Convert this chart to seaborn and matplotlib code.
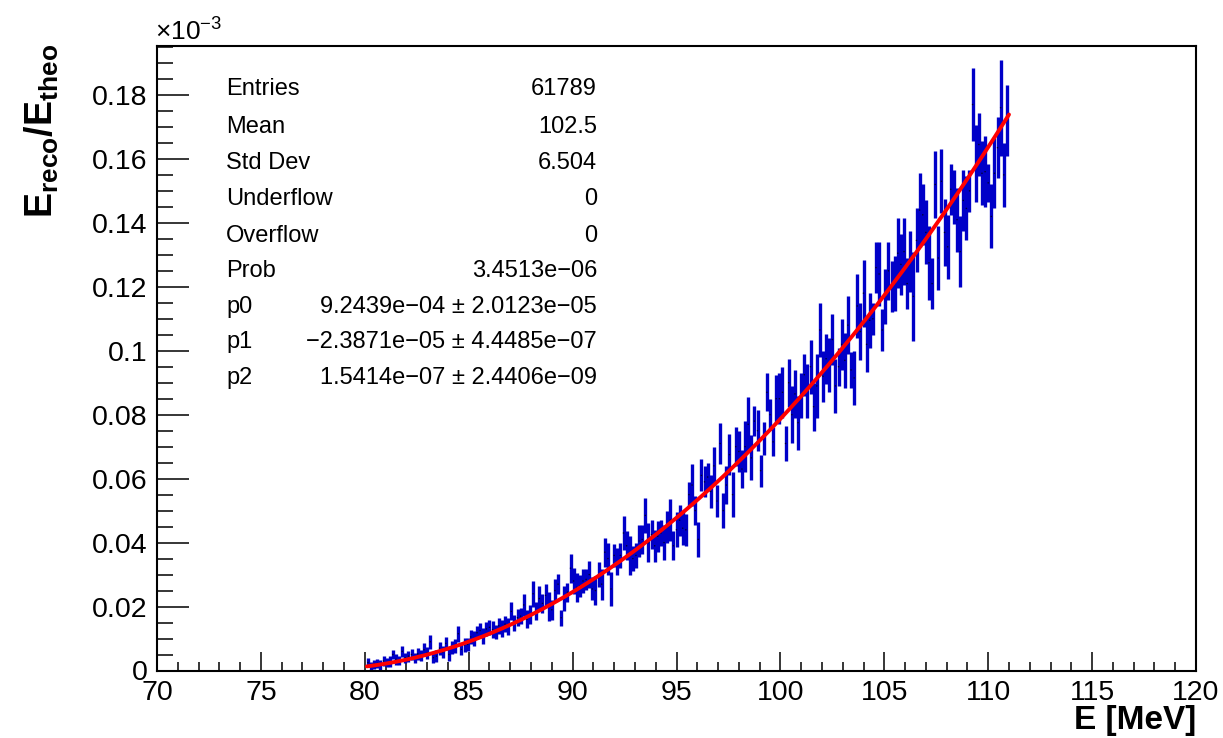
import numpy as np
import pandas as pd
import matplotlib
matplotlib.use("Agg")
import matplotlib.pyplot as plt
from matplotlib.ticker import MultipleLocator, FuncFormatter
import seaborn as sns

# ---------------- data (y in units of 1e-3) ----------------
bin_start = 80.15
bin_width = 0.15

ratio = [
    0.0025, 0.0015, 0.0020, 0.0022, 0.0018, 0.0030, 0.0024,
    0.0028, 0.0050, 0.0035, 0.0030, 0.0060, 0.0040,
    0.0045, 0.0050, 0.0038, 0.0052, 0.0048, 0.0065,
    0.0055, 0.0090, 0.0040, 0.0045, 0.0070, 0.0058, 0.0085,
    0.0050, 0.0072, 0.0078, 0.0115, 0.0066, 0.0080, 0.0082,
    0.0105, 0.0100, 0.0118, 0.0125, 0.0108, 0.0130,
    0.0135, 0.0128, 0.0120, 0.0140, 0.0132, 0.0145, 0.0138,
    0.0185, 0.0150, 0.0165, 0.0170, 0.0205, 0.0160, 0.0175,
    0.0240, 0.0185, 0.0225, 0.0210, 0.0235, 0.0200, 0.0190,
    0.0250, 0.0270, 0.0165, 0.0225, 0.0245, 0.0320,
    0.0280, 0.0260, 0.0265, 0.0280, 0.0285, 0.0300, 0.0255,
    0.0250, 0.0300, 0.0270, 0.0370, 0.0350, 0.0255,
    0.0360, 0.0340, 0.0360, 0.0430, 0.0390, 0.0360, 0.0350,
    0.0360, 0.0405, 0.0410, 0.0485, 0.0400, 0.0425, 0.0390,
    0.0420, 0.0430, 0.0400, 0.0450, 0.0470, 0.0390,
    0.0440, 0.0470, 0.0445, 0.0440, 0.0550, 0.0580, 0.0500,
    0.0410, 0.0610, 0.0590, 0.0605, 0.0560, 0.0640, 0.0530,
    0.0710, 0.0500, 0.0580, 0.0675, 0.0550, 0.0700,
    0.0685, 0.0630, 0.0700, 0.0770, 0.0665, 0.0780, 0.0750,
    0.0625, 0.0725, 0.0870, 0.0800, 0.0715, 0.0850, 0.0850,
    0.0870, 0.0710, 0.0900, 0.0800, 0.0865, 0.0775,
    0.0860, 0.0925, 0.0875, 0.0950, 0.0825, 0.0890, 0.1065,
    0.0920, 0.0975, 0.0955, 0.1035, 0.0890, 0.0950, 0.1020,
    0.0970, 0.1080, 0.0940, 0.0915, 0.1140, 0.1060,
    0.1180, 0.1020, 0.1095, 0.1100, 0.1260, 0.1240, 0.1065,
    0.1170, 0.1250, 0.1200, 0.1210, 0.1305, 0.1270, 0.1310,
    0.1210, 0.1280, 0.1170, 0.1345, 0.1440, 0.1425,
    0.1370, 0.1275, 0.1210, 0.1520, 0.1290, 0.1530, 0.1370,
    0.1325, 0.1505, 0.1480, 0.1410, 0.1310, 0.1470, 0.1445,
    0.1500, 0.1770, 0.1585, 0.1645, 0.1555, 0.1560,
    0.1525, 0.1420, 0.1555, 0.1635, 0.1760, 0.1550, 0.1720,
]

ratio_err = [
    0.0015, 0.0012, 0.0014, 0.0013, 0.0016, 0.0015, 0.0014,
    0.0016, 0.0015, 0.0017, 0.0014, 0.0018, 0.0016,
    0.0017, 0.0018, 0.0016, 0.0019, 0.0017, 0.0020,
    0.0018, 0.0022, 0.0017, 0.0019, 0.0020, 0.0018, 0.0021,
    0.0019, 0.0020, 0.0022, 0.0025, 0.0018, 0.0021, 0.0020,
    0.0022, 0.0024, 0.0021, 0.0023, 0.0025, 0.0022,
    0.0024, 0.0026, 0.0023, 0.0025, 0.0027, 0.0024, 0.0026,
    0.0028, 0.0025, 0.0027, 0.0026, 0.0035, 0.0028, 0.0030,
    0.0040, 0.0028, 0.0038, 0.0030, 0.0036, 0.0045, 0.0032,
    0.0035, 0.0032, 0.0025, 0.0040, 0.0030, 0.0045,
    0.0040, 0.0045, 0.0035, 0.0038, 0.0032, 0.0042, 0.0036,
    0.0045, 0.0040, 0.0048, 0.0045, 0.0050, 0.0052,
    0.0035, 0.0042, 0.0038, 0.0052, 0.0045, 0.0060, 0.0040,
    0.0040, 0.0050, 0.0045, 0.0055, 0.0060, 0.0045, 0.0050,
    0.0048, 0.0042, 0.0055, 0.0050, 0.0065, 0.0045,
    0.0055, 0.0048, 0.0052, 0.0050, 0.0040, 0.0065, 0.0045,
    0.0055, 0.0050, 0.0048, 0.0045, 0.0052, 0.0060, 0.0050,
    0.0065, 0.0055, 0.0060, 0.0065, 0.0070, 0.0060,
    0.0065, 0.0060, 0.0080, 0.0085, 0.0070, 0.0048, 0.0065,
    0.0050, 0.0052, 0.0060, 0.0048, 0.0045, 0.0075, 0.0080,
    0.0080, 0.0055, 0.0075, 0.0090, 0.0075, 0.0085,
    0.0070, 0.0065, 0.0085, 0.0085, 0.0075, 0.0100, 0.0085,
    0.0080, 0.0078, 0.0085, 0.0080, 0.0085, 0.0060, 0.0080,
    0.0085, 0.0090, 0.0055, 0.0085, 0.0100, 0.0090,
    0.0105, 0.0085, 0.0085, 0.0050, 0.0080, 0.0100, 0.0065,
    0.0085, 0.0090, 0.0080, 0.0085, 0.0110, 0.0095, 0.0105,
    0.0080, 0.0095, 0.0140, 0.0100, 0.0115, 0.0095,
    0.0100, 0.0115, 0.0080, 0.0105, 0.0100, 0.0100, 0.0105,
    0.0100, 0.0080, 0.0085, 0.0100, 0.0110, 0.0095, 0.0100,
    0.0065, 0.0115, 0.0120, 0.0100, 0.0100, 0.0110,
    0.0060, 0.0100, 0.0110, 0.0095, 0.0150, 0.0100, 0.0110,
]

# fit parameters (pol2) from stats box
fit_p = [9.2439e-04, -2.3871e-05, 1.5414e-07]
fit_range = [80.1, 111.0]

stat_labels = ["Entries", "Mean", "Std Dev", "Underflow", "Overflow", "Prob",
               "p0", "p1", "p2"]
stat_values = ["61789", "102.5", "6.504", "0", "0", "3.4513e\u221206",
               "9.2439e\u221204 \u00b1 2.0123e\u221205",
               "\u22122.3871e\u221205 \u00b1 4.4485e\u221207",
               "1.5414e\u221207 \u00b1 2.4406e\u221209"]

x_ticks = [70, 75, 80, 85, 90, 95, 100, 105, 110, 115, 120]
y_ticks = [0, 0.02, 0.04, 0.06, 0.08, 0.1, 0.12, 0.14, 0.16, 0.18]

# ---------------- build frames ----------------
energy = np.round(bin_start + bin_width * np.arange(len(ratio)), 3)
df = pd.DataFrame({"E": energy, "r": ratio, "err": ratio_err})

e_fit = np.linspace(fit_range[0], fit_range[1], 400)
r_fit = (fit_p[0] + fit_p[1] * e_fit + fit_p[2] * e_fit ** 2) * 1e3
df_fit = pd.DataFrame({"E": e_fit, "r": r_fit})

# ---------------- style ----------------
sns.set_theme(style="white")
plt.rcParams["font.family"] = ["Liberation Sans", "DejaVu Sans"]
plt.rcParams["mathtext.fontset"] = "custom"
plt.rcParams["mathtext.rm"] = "Liberation Sans"
plt.rcParams["mathtext.it"] = "Liberation Sans:italic"
plt.rcParams["mathtext.bf"] = "Liberation Sans:bold"
plt.rcParams["text.color"] = "black"
plt.rcParams["axes.labelcolor"] = "black"
plt.rcParams["xtick.color"] = "black"
plt.rcParams["ytick.color"] = "black"

W, H = 1223, 738
fig = plt.figure(figsize=(W / 100, H / 100), dpi=100)
ax_l, ax_r, ax_t, ax_b = 157, 1196, 46, 670.5
ax = fig.add_axes([ax_l / W, 1 - ax_b / H, (ax_r - ax_l) / W, (ax_b - ax_t) / H])

blue = "#0000c8"
ax.errorbar(df["E"], df["r"], yerr=df["err"], fmt="none", ecolor=blue,
            elinewidth=2.4, capsize=0, zorder=2)
sns.scatterplot(data=df, x="E", y="r", ax=ax, s=1.2, color="#000033",
                edgecolor="none", zorder=3, legend=False)
sns.lineplot(data=df_fit, x="E", y="r", ax=ax, color="#ff0000", lw=2.8,
             zorder=4, legend=False)

ax.set_xlim(70, 120)
ax.set_ylim(0, 0.1953)
ax.set_xlabel("")
ax.set_ylabel("")

ax.set_xticks(x_ticks)
ax.set_yticks(y_ticks)
ax.xaxis.set_minor_locator(MultipleLocator(1))
ax.yaxis.set_minor_locator(MultipleLocator(0.005))
ax.yaxis.set_major_formatter(FuncFormatter(lambda v, p: "{:g}".format(round(v, 4))))
ax.xaxis.set_major_formatter(FuncFormatter(lambda v, p: "{:g}".format(v)))

ax.tick_params(axis="both", which="both", direction="in", colors="black",
               width=1.1, labelsize=20.5)
ax.tick_params(axis="y", which="major", length=23, pad=7)
ax.tick_params(axis="y", which="minor", length=11.5)
ax.tick_params(axis="x", which="major", length=13.7, pad=6.5)
ax.tick_params(axis="x", which="minor", length=6.8)
ax.tick_params(bottom=True, left=True, top=False, right=False)
ax.tick_params(which="minor", bottom=True, left=True, top=False, right=False)

for s in ax.spines.values():
    s.set_visible(True)
    s.set_color("black")
    s.set_linewidth(1.5)

# stats box text
row_y = [89, 127, 163, 199, 236, 271, 307, 342, 378]
for lab, val, yp in zip(stat_labels, stat_values, row_y):
    fy = 1 - yp / H
    fig.text(226 / W, fy, lab, ha="left", va="center", fontsize=17)
    fig.text(597 / W, fy, val, ha="right", va="center", fontsize=17)

# axis titles
fig.text(42 / W, 1 - 131 / H,
         r"$\mathbf{E}_{\mathbf{reco}}\mathbf{/E}_{\mathbf{theo}}$",
         rotation=90, ha="center", va="center", fontsize=27)
fig.text(ax_r / W, 1 - 720 / H, "E [MeV]", ha="right", va="center",
         fontsize=24, fontweight="bold")
fig.text(155 / W, 1 - 32 / H, r"$\times10^{-3}$", ha="left", va="center",
         fontsize=19)

fig.savefig("out.png", dpi=100)
